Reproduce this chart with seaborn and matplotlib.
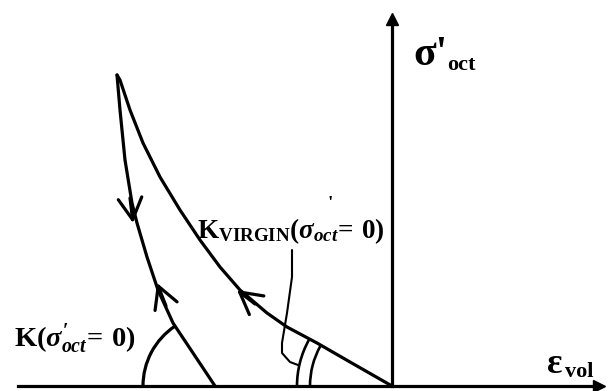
import numpy as np
import pandas as pd
import seaborn as sns
import matplotlib
matplotlib.use("Agg")
import matplotlib.pyplot as plt
from matplotlib.patches import Arc

# Schematic coordinates: x = volumetric strain, y = octahedral effective stress
# (origin where the two axes cross)
virgin_x = [0, -42, -75, -105, -125, -152, -172, -192, -212, -232, -249, -262, -272, -275]
virgin_y = [0, 24, 43, 59, 73, 96, 119, 146, 176, 209, 243, 276, 306, 311]

cycle_x = [-177, -199, -219, -234, -245, -255, -260, -267, -272, -275]
cycle_y = [0, 33, 63, 96, 129, 163, 183, 226, 276, 311]

leader_x = [-100, -100, -105, -110, -110, -102, -94]
leader_y = [136, 109, 73, 43, 33, 24, 21]

# Direction arrows along the paths: tip point and a point just behind it
arrow_tip_x = [-259, -235, -155]
arrow_tip_y = [163, 103, 96]
arrow_tail_x = [-262, -226, -137]
arrow_tail_y = [188, 80, 82]

# Angle markers: (centre x, centre y, radius, start angle, end angle, width)
angle_arcs = [(-177, 0, 72, 124, 180, 2.3),
              (0, 0, 95, 151, 180, 1.9),
              (0, 0, 82, 151, 180, 1.9)]

sns.set_theme(style="white")
plt.rcParams.update({
    "mathtext.fontset": "custom",
    "mathtext.rm": "Liberation Serif:bold",
    "mathtext.it": "Liberation Serif:italic:bold",
    "mathtext.bf": "Liberation Serif:bold",
    "font.family": ["Liberation Serif", "DejaVu Serif"],
    "font.weight": "bold",
})

W, H = 608, 391
ox, oy = 392, 386          # origin of the diagram in figure pixels
fig = plt.figure(figsize=(W / 100, H / 100), dpi=100)
left_px, right_px, top_px, bottom_px = 18, 599, 19, 386
ax = fig.add_axes([left_px / W, (H - bottom_px) / H,
                   (right_px - left_px) / W, (bottom_px - top_px) / H])
ax.set_xlim(left_px - ox, right_px - ox)
ax.set_ylim(oy - bottom_px, oy - top_px)
ax.set_facecolor("white")

lw = 2.3
ink = "black"

# Axes through the origin, with arrowheads
for side in ["top", "right"]:
    ax.spines[side].set_visible(False)
ax.spines["left"].set_position(("data", 0))
ax.spines["bottom"].set_position(("data", 0))
for side in ["left", "bottom"]:
    ax.spines[side].set_linewidth(lw)
    ax.spines[side].set_color(ink)
ax.set_xticks([])
ax.set_yticks([])
ax.plot(1, 0, ">", color=ink, ms=9, transform=ax.get_yaxis_transform(), clip_on=False)
ax.plot(0, 1, "^", color=ink, ms=9, transform=ax.get_xaxis_transform(), clip_on=False)

virgin = pd.DataFrame({"x": virgin_x, "y": virgin_y})
cycle = pd.DataFrame({"x": cycle_x, "y": cycle_y})
leader = pd.DataFrame({"x": leader_x, "y": leader_y})

line_kw = dict(sort=False, estimator=None, color=ink, ax=ax,
               solid_joinstyle="round", solid_capstyle="round")
sns.lineplot(data=virgin, x="x", y="y", lw=lw, **line_kw)
sns.lineplot(data=cycle, x="x", y="y", lw=lw, **line_kw)
sns.lineplot(data=leader, x="x", y="y", lw=1.5, **line_kw)

for tx, ty, sx, sy in zip(arrow_tip_x, arrow_tip_y, arrow_tail_x, arrow_tail_y):
    ax.annotate("", xy=(tx, ty), xytext=(sx, sy),
                arrowprops=dict(arrowstyle="->,head_length=1.55,head_width=0.85",
                                mutation_scale=10, lw=lw, color=ink,
                                shrinkA=0, shrinkB=0, capstyle="round"))

for cx, cy, r, a1, a2, w in angle_arcs:
    ax.add_patch(Arc((cx, cy), 2 * r, 2 * r, theta1=a1, theta2=a2,
                     lw=w, color=ink, clip_on=False))

# Axis labels
ax.text(21, 321, "σ'", fontsize=30, ha="left", va="baseline", color=ink)
ax.text(55, 316, "oct", fontsize=16, ha="left", va="baseline", color=ink)
ax.text(155, 13, "ε", fontsize=26, ha="left", va="baseline", color=ink)
ax.text(173, 9, "vol", fontsize=16, ha="left", va="baseline", color=ink)

# Stiffness labels
ax.text(-195, 148, r"$\mathrm{K}_{\mathrm{VIRGIN}}(\sigma_{oct}\!{=}\,0)$",
        fontsize=19.5, ha="left", va="baseline", color=ink)
ax.text(-62, 177, "'", fontsize=14, ha="center", va="baseline", color=ink)
ax.text(-378, 40, r"$\mathrm{K}(\sigma^{\prime}_{oct}\!{=}\,0)$",
        fontsize=20.5, ha="left", va="baseline", color=ink, clip_on=False)

fig.savefig("out.png", dpi=100, facecolor="white")
